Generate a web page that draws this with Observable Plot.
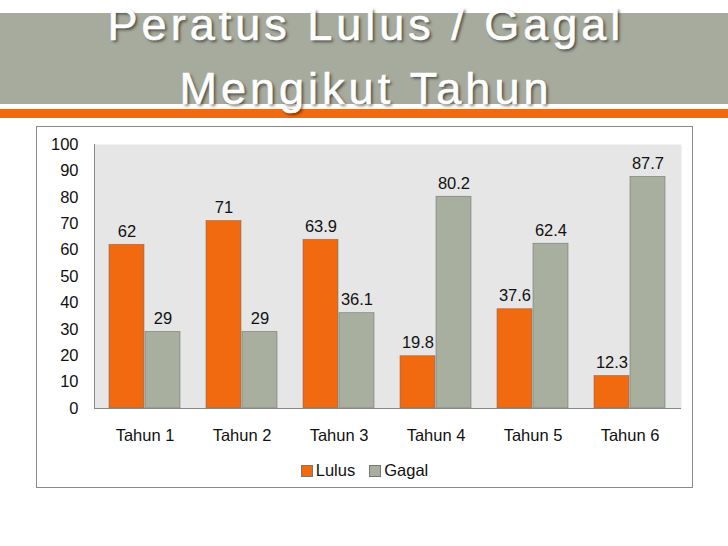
<!DOCTYPE html>
<html>
<head>
<meta charset="utf-8">
<script src="https://cdn.jsdelivr.net/npm/d3@7"></script>
<script src="https://cdn.jsdelivr.net/npm/@observablehq/plot@0.6"></script>
<style>
  html, body { margin: 0; padding: 0; background: #fff; }
  body { width: 728px; height: 546px; position: relative; overflow: hidden; font-family: "Liberation Sans", Arial, sans-serif; }
  #band { position: absolute; left: 0; top: 13px; width: 728px; height: 91px; background: #a7ab9d; }
  #orange { position: absolute; left: 0; top: 109px; width: 728px; height: 9px; background: #f06a12; }
  .title { position: absolute; left: 0; width: 728px; box-sizing: border-box; padding-left: 4px; text-align: center; color: #fff; font-size: 45px; line-height: 45px; letter-spacing: 4px; -webkit-text-stroke: 0.6px #fff; text-shadow: 2px 2px 3px rgba(0,0,0,0.55); white-space: nowrap; }
  #box { position: absolute; left: 36px; top: 126px; width: 655px; height: 360px; border: 1px solid #8a8a8a; box-sizing: content-box; }
  #chart { position: absolute; left: 0; top: 0; }
  #legend { position: absolute; left: 0; top: 334px; width: 655px; display: flex; justify-content: center; align-items: center; font-size: 16.5px; color: #111; }
  .item { display: flex; align-items: center; margin: 0 7px; }
  .sw { width: 10px; height: 10px; border: 0.5px solid #777; margin-right: 3px; }
</style>
</head>
<body>
<div id="band"></div>
<div id="orange"></div>
<div class="title" style="top:2px">Peratus Lulus / Gagal</div>
<div class="title" style="top:66px">Mengikut Tahun</div>
<div id="box">
  <div id="chart"></div>
  <div id="legend"></div>
</div>
<script>
const categories = ["Tahun 1", "Tahun 2", "Tahun 3", "Tahun 4", "Tahun 5", "Tahun 6"];
const lulus = [62, 71, 63.9, 19.8, 37.6, 12.3];
const gagal = [29, 29, 36.1, 80.2, 62.4, 87.7];
const seriesNames = ["Lulus", "Gagal"];
const seriesColors = ["#f26a10", "#a8af9e"];
const yTicks = [0, 10, 20, 30, 40, 50, 60, 70, 80, 90, 100];

const lulusData = categories.map((c, i) => ({cat: c, value: lulus[i]}));
const gagalData = categories.map((c, i) => ({cat: c, value: gagal[i]}));

const half = 36;
const fs = 16.5;

const chart = Plot.plot({
  width: 655,
  height: 321,
  marginLeft: 57,
  marginRight: 11,
  marginTop: 17,
  marginBottom: 40,
  style: {fontFamily: "'Liberation Sans', Arial, sans-serif", fontSize: fs + "px", color: "#111", background: "transparent"},
  x: {domain: categories, paddingInner: 0.264, paddingOuter: 0.132, label: null},
  y: {domain: [0, 100], label: null},
  marks: [
    Plot.frame({fill: "#e6e6e6", stroke: null}),
    Plot.barY(lulusData, {x: "cat", y: "value", fill: seriesColors[0], stroke: "#6f6f6f", strokeWidth: 0.7, strokeOpacity: 0.8, insetRight: half, insetLeft: 0}),
    Plot.barY(gagalData, {x: "cat", y: "value", fill: seriesColors[1], stroke: "#6f6f6f", strokeWidth: 0.7, strokeOpacity: 0.8, insetLeft: half, insetRight: 0}),
    Plot.text(lulusData, {x: "cat", y: "value", text: d => String(d.value), dx: -half / 2, dy: -8, lineAnchor: "bottom", fontSize: fs, fill: "#111"}),
    Plot.text(gagalData, {x: "cat", y: "value", text: d => String(d.value), dx: half / 2, dy: -8, lineAnchor: "bottom", fontSize: fs, fill: "#111"}),
    Plot.ruleY([0], {stroke: "#888", strokeWidth: 1}),
    Plot.frame({anchor: "left", stroke: "#888", strokeWidth: 1}),
    Plot.axisY({ticks: yTicks, tickSize: 0, tickPadding: 16, fontSize: fs, label: null}),
    Plot.axisX({tickSize: 0, tickPadding: 21, fontSize: fs, label: null})
  ]
});
document.getElementById("chart").appendChild(chart);

const legend = document.getElementById("legend");
seriesNames.forEach((n, i) => {
  const item = document.createElement("div");
  item.className = "item";
  const sw = document.createElement("div");
  sw.className = "sw";
  sw.style.background = seriesColors[i];
  const t = document.createElement("span");
  t.textContent = n;
  item.appendChild(sw);
  item.appendChild(t);
  legend.appendChild(item);
});
</script>
</body>
</html>
